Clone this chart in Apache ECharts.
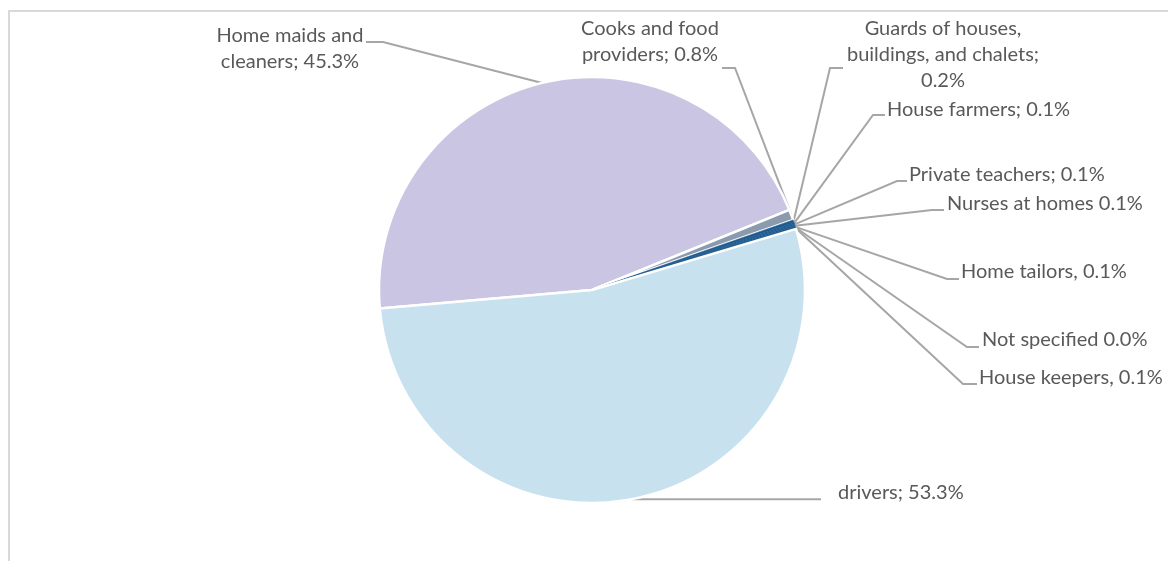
<!DOCTYPE html>
<html>
<head>
<meta charset="utf-8">
<title>Domestic workers by occupation</title>
<script src="https://cdn.jsdelivr.net/npm/echarts@6/dist/echarts.min.js"></script>
<style>
  html, body { margin: 0; padding: 0; background: #ffffff; }
  #chart { position: absolute; left: 0; top: 0; width: 1168px; height: 561px; }
  #frame {
    position: absolute; left: 8px; top: 10px; right: -10px; bottom: -10px;
    border-top: 2px solid #d9d9d9; border-left: 2px solid #d9d9d9;
    pointer-events: none;
  }
</style>
</head>
<body>
<div id="chart"></div>
<div id="frame"></div>
<script>
// Occupation categories, in clockwise drawing order
const categories = [
  'Home maids and\ncleaners',
  'Cooks and food\nproviders',
  'Guards of houses,\nbuildings, and chalets',
  'House farmers',
  'Private teachers',
  'Nurses at homes',
  'Home tailors',
  'Not specified',
  'House keepers',
  'drivers'
];

// Share of workers, percent
const shares = [45.3, 0.8, 0.2, 0.1, 0.1, 0.1, 0.1, 0.0, 0.1, 53.3];

// Text between each name and its percentage in the label
const separators = ['; ', '; ', ';\n', '; ', '; ', ' ', ', ', ' ', ', ', '; '];

// Slice fills
const sliceColors = [
  '#cac5e3', '#8a9bad', '#1e5a8e', '#1e5a8e', '#1e5a8e',
  '#1e5a8e', '#1e5a8e', '#1e5a8e', '#1e5a8e', '#c8e1ee'
];

// Where each label sits and how its leader line bends toward it
const labelSpots = [
  { x: 290, y: 49,  align: 'center', bend: [[383, 42], [366, 42]] },
  { x: 650, y: 42,  align: 'center', bend: [[735, 68], [722, 68]] },
  { x: 943, y: 55,  align: 'center', bend: [[830, 68], [843, 68]] },
  { x: 887, y: 110, align: 'left',   bend: [[873, 115], [885, 115]] },
  { x: 909, y: 175, align: 'left',   bend: [[897, 181], [907, 181]] },
  { x: 947, y: 204, align: 'left',   bend: [[932, 210], [944, 210]] },
  { x: 961, y: 272, align: 'left',   bend: [[947, 279], [959, 279]] },
  { x: 982, y: 340, align: 'left',   bend: [[967, 347], [979, 347]] },
  { x: 979, y: 378, align: 'left',   bend: [[963, 384], [977, 384]] },
  { x: 838, y: 493, align: 'left',   bend: null }
];

const pieData = categories.map(function (name, i) {
  const solid = i >= 2 && i <= 8;
  return {
    name: name,
    value: shares[i],
    itemStyle: {
      color: sliceColors[i],
      borderColor: solid ? sliceColors[i] : '#ffffff',
      borderWidth: solid ? 0.5 : 2.5
    }
  };
});

const chart = echarts.init(document.getElementById('chart'), null, { renderer: 'canvas' });

chart.setOption({
  animation: false,
  backgroundColor: '#ffffff',
  series: [{
    type: 'pie',
    center: [592, 290],
    radius: 213,
    startAngle: 185,
    clockwise: true,
    avoidLabelOverlap: false,
    data: pieData,
    label: {
      show: true,
      position: 'outside',
      color: '#595959',
      fontFamily: 'Lato, "Open Sans", sans-serif',
      fontSize: 20,
      lineHeight: 26,
      formatter: function (p) {
        return categories[p.dataIndex] + separators[p.dataIndex] + shares[p.dataIndex].toFixed(1) + '%';
      }
    },
    labelLine: {
      show: true,
      length: 10,
      length2: 10,
      smooth: false,
      lineStyle: { color: '#a6a6a6', width: 2 }
    },
    labelLayout: function (p) {
      const spot = labelSpots[p.dataIndex];
      const edge = p.labelLinePoints ? p.labelLinePoints[0] : null;
      let pts;
      if (edge) {
        pts = spot.bend ? [edge].concat(spot.bend) : [edge, [820, edge[1]], [821, edge[1]]];
      }
      const out = { x: spot.x, y: spot.y, align: spot.align, verticalAlign: 'middle' };
      if (pts) out.labelLinePoints = pts;
      return out;
    }
  }]
});
</script>
</body>
</html>
